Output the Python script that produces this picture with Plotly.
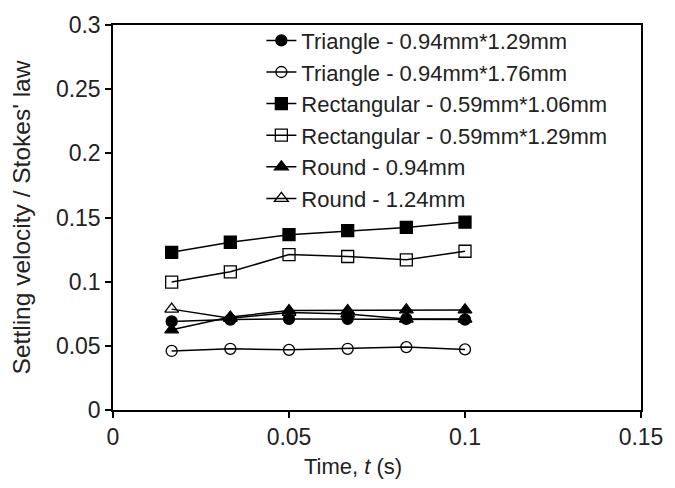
import plotly.graph_objects as go

time_s = [1/60, 2/60, 3/60, 4/60, 5/60, 6/60]

tri_094_129 = [0.069, 0.0705, 0.071, 0.071, 0.071, 0.0705]
tri_094_176 = [0.046, 0.0477, 0.0469, 0.0477, 0.049, 0.0472]
rect_059_106 = [0.1229, 0.1307, 0.1366, 0.1397, 0.1423, 0.1464]
rect_059_129 = [0.0997, 0.1077, 0.1211, 0.1196, 0.1170, 0.1237]
round_094 = [0.0625, 0.0725, 0.0775, 0.0775, 0.078, 0.078]
round_124 = [0.0786, 0.0715, 0.076, 0.0748, 0.0709, 0.0709]

series = [
    ("Triangle - 0.94mm*1.29mm", tri_094_129, "circle", True),
    ("Triangle - 0.94mm*1.76mm", tri_094_176, "circle", False),
    ("Rectangular - 0.59mm*1.06mm", rect_059_106, "square", True),
    ("Rectangular - 0.59mm*1.29mm", rect_059_129, "square", False),
    ("Round - 0.94mm", round_094, "triangle-up", True),
    ("Round - 1.24mm", round_124, "triangle-up", False),
]

FONT = "Liberation Sans, Arial, sans-serif"

fig = go.Figure()
for name, ys, sym, filled in series:
    fig.add_trace(go.Scatter(
        x=time_s, y=ys, name=name, mode="lines+markers",
        line=dict(color="black", width=1.5),
        marker=dict(symbol=sym, size=12 if sym != "circle" else 11,
                    color="black" if filled else "rgba(0,0,0,0)",
                    line=dict(color="black", width=1.3)),
    ))

fig.update_layout(
    width=675, height=488,
    margin=dict(l=113, r=28, t=22, b=78),
    paper_bgcolor="white", plot_bgcolor="white",
    font=dict(family=FONT, size=23, color="#222"),
    showlegend=True,
    legend=dict(x=0.281, y=1.014, xanchor="left", yanchor="top",
                bgcolor="rgba(0,0,0,0)", font=dict(size=22),
                itemwidth=30, tracegroupgap=0),
    xaxis=dict(range=[0, 0.15], tickvals=[0, 0.05, 0.1, 0.15],
               ticktext=["0", "0.05", "0.1", "0.15"],
               showgrid=False, zeroline=False,
               showline=True, linecolor="black", linewidth=1.5, mirror=True,
               ticks="outside", ticklen=6, tickcolor="black", tickwidth=1.5,
               tickfont=dict(size=23)),
    yaxis=dict(range=[0, 0.3], tickvals=[0, 0.05, 0.1, 0.15, 0.2, 0.25, 0.3],
               ticktext=["0", "0.05", "0.1", "0.15", "0.2", "0.25", "0.3"],
               showgrid=False, zeroline=False,
               showline=True, linecolor="black", linewidth=1.5, mirror=True,
               ticks="outside", ticklen=6, tickcolor="black", tickwidth=1.5,
               tickfont=dict(size=23),
               title=dict(text="Settling velocity / Stokes' law", font=dict(size=24.5), standoff=18)),
    annotations=[dict(text="Time, <i>t</i> (s)", xref="paper", yref="paper",
                      x=0.455, y=-0.146, xanchor="center", yanchor="middle",
                      showarrow=False, font=dict(size=22, color="#222"))],
)

fig.write_html("out.html")
